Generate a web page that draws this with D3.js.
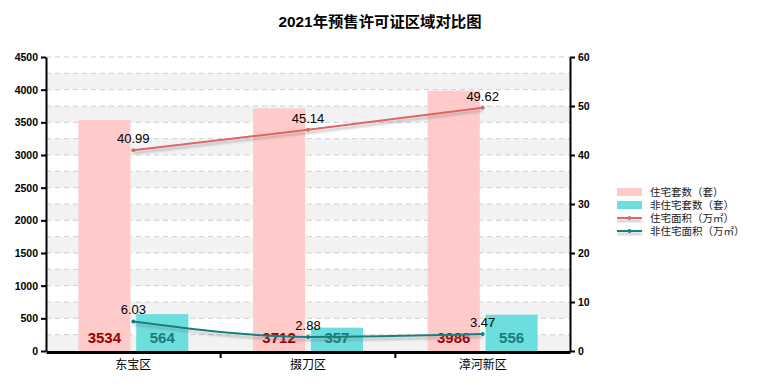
<!DOCTYPE html>
<html>
<head>
<meta charset="utf-8">
<script src="https://cdn.jsdelivr.net/npm/d3@7"></script>
<style>
	body { margin: 0; background: #fff; }
	svg text { font-family: "Liberation Sans", Arial, "Noto Sans CJK SC", sans-serif; }
</style>
</head>
<body>
<svg id="chart" width="757" height="387"></svg>
<script>
let districts = ['东宝区', '掇刀区', '漳河新区'];
let res_units = [3534, 3712, 3986];
let nonres_units = [564, 357, 556];
let res_area = [40.99, 45.14, 49.62];
let nonres_area = [6.03, 2.88, 3.47];
let left_ticks = [0, 500, 1000, 1500, 2000, 2500, 3000, 3500, 4000, 4500];
let right_ticks = [0, 10, 20, 30, 40, 50, 60];
let legend_names = ['住宅套数（套）', '非住宅套数（套）', '住宅面积（万㎡）', '非住宅面积（万㎡）'];

let margin = {left: 46, right: 187, top: 57, bottom: 36},
	width = 757, height = 387;
let pink = '#ffcaca', teal = '#6cdede',
	red_line = '#e06565', teal_line = '#137f7f';

let svg = d3.select('#chart');

// drop shadow for the two lines (user space so flat lines still get it)
let defs = svg.append('defs');
defs.append('filter')
	.attr('id', 'shadow')
	.attr('filterUnits', 'userSpaceOnUse')
	.attr('x', 0).attr('y', 0)
	.attr('width', width).attr('height', height)
	.append('feDropShadow')
	.attr('dx', 0).attr('dy', 3)
	.attr('stdDeviation', 1.2)
	.attr('flood-color', '#777')
	.attr('flood-opacity', 0.45);

let x0 = d3.scaleBand().domain(districts)
	.range([margin.left, width - margin.right]);
let bw = x0.bandwidth();
let x1 = d3.scaleBand().domain(['res', 'non'])
	.range([bw / 2 - 55, bw / 2 + 55])
	.paddingInner(0.1);
let yL = d3.scaleLinear().domain([0, 4500]).range([height - margin.bottom, margin.top]);
let yR = d3.scaleLinear().domain([0, 60]).range([height - margin.bottom, margin.top]);

// title
svg.append('text')
	.attr('x', 380)
	.attr('y', 27)
	.attr('text-anchor', 'middle')
	.attr('textLength', 203)
	.attr('lengthAdjust', 'spacingAndGlyphs')
	.style('font-size', '15px')
	.style('font-weight', 'bold')
	.text('2021年预售许可证区域对比图');

// bands and dashed grid
let grid = svg.append('g').attr('class', 'grid');
let grid_vals = d3.range(0, 4500, 250);
grid.selectAll('.band')
	.data(grid_vals.filter((d, i) => i % 2 == 0))
	.enter()
	.append('rect')
	.attr('x', margin.left)
	.attr('width', width - margin.right - margin.left)
	.attr('y', d => yL(d + 250))
	.attr('height', d => yL(d) - yL(d + 250))
	.attr('fill', '#f2f2f2');
grid.selectAll('.gline')
	.data(d3.range(250, 4501, 250))
	.enter()
	.append('line')
	.attr('x1', margin.left)
	.attr('x2', width - margin.right)
	.attr('y1', d => yL(d))
	.attr('y2', d => yL(d))
	.attr('stroke', '#cfcfcf')
	.attr('stroke-dasharray', '5,4');

// bars
let bars = svg.append('g').attr('class', 'bars');
let groups = bars.selectAll('.grp')
	.data(districts)
	.enter()
	.append('g')
	.attr('transform', d => `translate(${x0(d)},0)`);
groups.append('rect')
	.attr('x', x1('res'))
	.attr('width', x1.bandwidth())
	.attr('y', (d, i) => yL(res_units[i]))
	.attr('height', (d, i) => yL(0) - yL(res_units[i]))
	.attr('fill', pink);
groups.append('rect')
	.attr('x', x1('non'))
	.attr('width', x1.bandwidth())
	.attr('y', (d, i) => yL(nonres_units[i]))
	.attr('height', (d, i) => yL(0) - yL(nonres_units[i]))
	.attr('fill', teal);

// lines
let line_fn = d3.line()
	.x((d, i) => x0(districts[i]) + bw / 2)
	.y(d => yR(d))
	.curve(d3.curveMonotoneX);

function draw_series(vals, color) {
	let g = svg.append('g');
	g.append('path')
		.attr('d', line_fn(vals))
		.attr('fill', 'none')
		.attr('stroke', color)
		.attr('stroke-width', 2)
		.attr('filter', 'url(#shadow)');
	g.selectAll('circle')
		.data(vals)
		.enter()
		.append('circle')
		.attr('cx', (d, i) => x0(districts[i]) + bw / 2)
		.attr('cy', d => yR(d))
		.attr('r', 2)
		.attr('fill', color);
	g.selectAll('text')
		.data(vals)
		.enter()
		.append('text')
		.attr('x', (d, i) => x0(districts[i]) + bw / 2)
		.attr('y', d => yR(d) - 7)
		.attr('text-anchor', 'middle')
		.style('font-size', '13px')
		.text(d => d.toFixed(2));
}

// bar value labels
groups.append('text')
	.attr('x', x1('res') + x1.bandwidth() / 2)
	.attr('y', yL(0) - 8)
	.attr('text-anchor', 'middle')
	.style('font-size', '15px')
	.style('font-weight', 'bold')
	.style('fill', '#980000')
	.text((d, i) => res_units[i]);
groups.append('text')
	.attr('x', x1('non') + x1.bandwidth() / 2)
	.attr('y', yL(0) - 8)
	.attr('text-anchor', 'middle')
	.style('font-size', '15px')
	.style('font-weight', 'bold')
	.style('fill', '#1b7a7a')
	.text((d, i) => nonres_units[i]);

draw_series(res_area, red_line);
draw_series(nonres_area, teal_line);

// axes
let axisL = svg.append('g')
	.attr('transform', `translate(${margin.left},0)`)
	.call(d3.axisLeft(yL).tickValues(left_ticks).tickFormat(d3.format('d')).tickSize(5).tickSizeOuter(0));
let axisR = svg.append('g')
	.attr('transform', `translate(${width - margin.right},0)`)
	.call(d3.axisRight(yR).tickValues(right_ticks).tickFormat(d3.format('d')).tickSize(5).tickSizeOuter(0));
[axisL, axisR].forEach(a => {
	a.select('.domain').attr('stroke-width', 2);
	a.selectAll('.tick line').attr('stroke-width', 2);
	a.selectAll('.tick text')
		.style('font-size', '10.5px')
		.style('font-weight', 'bold')
		.style('font-family', '"Liberation Sans", Arial, sans-serif');
});

let axisB = svg.append('g')
	.attr('transform', `translate(0,${yL(0) + 1})`)
	.call(d3.axisBottom(x0).tickSize(0).tickSizeOuter(0));
axisB.select('.domain').attr('stroke-width', 3);
axisB.selectAll('.tick text')
	.attr('dy', '1.2em')
	.style('font-size', '12px')
	.style('font-family', '"Liberation Sans", "Noto Sans CJK SC", sans-serif');
axisB.selectAll('.sep')
	.data(districts.slice(1))
	.enter()
	.append('line')
	.attr('x1', d => x0(d))
	.attr('x2', d => x0(d))
	.attr('y1', 0)
	.attr('y2', 6)
	.attr('stroke', '#000')
	.attr('stroke-width', 2);

// legend
let legend = svg.append('g').attr('transform', 'translate(617,188)');
let row_h = 13;
let legend_fills = [pink, teal, red_line, teal_line];
legend_names.forEach((name, i) => {
	let row = legend.append('g').attr('transform', `translate(0,${i * row_h})`);
	if (i < 2) {
		row.append('rect')
			.attr('x', 0).attr('y', 0)
			.attr('width', 25).attr('height', 8)
			.attr('fill', legend_fills[i]);
	} else {
		row.append('line')
			.attr('x1', 0).attr('x2', 25)
			.attr('y1', 4).attr('y2', 4)
			.attr('stroke', legend_fills[i])
			.attr('stroke-width', 2)
			.attr('filter', 'url(#shadow)');
		row.append('circle')
			.attr('cx', 12.5).attr('cy', 4).attr('r', 2)
			.attr('fill', legend_fills[i]);
	}
	row.append('text')
		.attr('x', 33)
		.attr('y', 8)
		.style('font-size', '10.5px')
		.style('fill', '#222')
		.text(name);
});
</script>
</body>
</html>
